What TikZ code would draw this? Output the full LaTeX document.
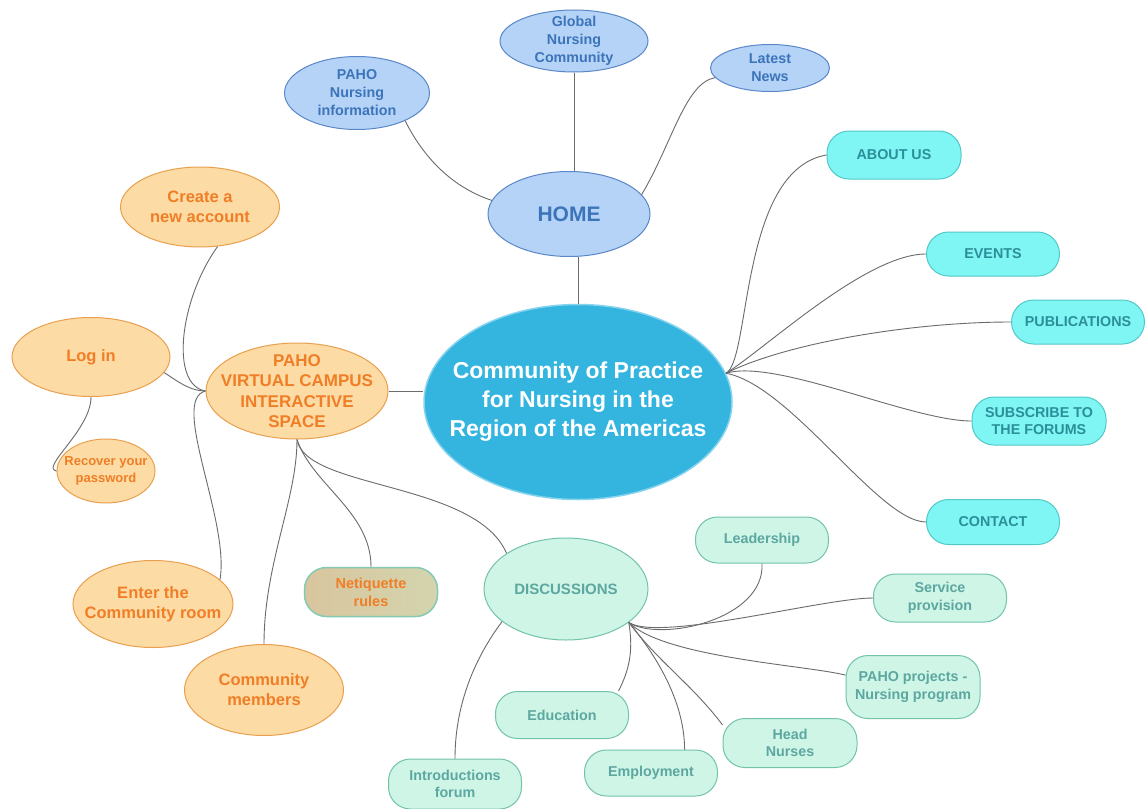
\documentclass[tikz,border=0pt]{standalone}
\usepackage{fontspec}
\setmainfont{Liberation Sans}
\usetikzlibrary{shapes.geometric}
\definecolor{bluefill}{HTML}{B5D3F7}
\definecolor{bluebd}{HTML}{5A87C8}
\definecolor{bluetx}{HTML}{3C74BA}
\definecolor{cfill}{HTML}{33B5E0}
\definecolor{cbd}{HTML}{86D3EE}
\definecolor{ofill}{HTML}{FDDBA5}
\definecolor{obd}{HTML}{E8A04F}
\definecolor{otx}{HTML}{F07E26}
\definecolor{cyfill}{HTML}{80F6F4}
\definecolor{cybd}{HTML}{52C8C8}
\definecolor{cytx}{HTML}{2B8F9A}
\definecolor{gfill}{HTML}{CFF5E7}
\definecolor{gbd}{HTML}{72C3AA}
\definecolor{gtx}{HTML}{5CA79F}
\definecolor{nleft}{HTML}{D9C59E}
\definecolor{nright}{HTML}{D3D5AE}
\definecolor{nbd}{HTML}{85C9B5}
\definecolor{linec}{HTML}{6B6B6B}
\tikzset{
  ell/.style={ellipse, inner sep=-40pt, align=center, line width=1pt},
  blueell/.style={ell, draw=bluebd, fill=bluefill, text=bluetx,
    font=\bfseries\fontsize{14.3}{18}\selectfont},
  orangeell/.style={ell, draw=obd, fill=ofill, text=otx,
    font=\bfseries\fontsize{16.5}{20}\selectfont},
  pill/.style={rectangle, rounded corners=22pt, inner sep=0pt, align=center,
    line width=1pt, minimum width=133pt},
  cypill/.style={pill, draw=cybd, fill=cyfill, text=cytx,
    font=\bfseries\fontsize{14.3}{17.5}\selectfont},
  gpill/.style={pill, draw=gbd, fill=gfill, text=gtx,
    font=\bfseries\fontsize{14.3}{17.5}\selectfont},
  conn/.style={draw=linec, line width=0.9pt},
}
\begin{document}
\begin{tikzpicture}[x=1pt,y=-1pt]
\useasboundingbox (0,0) rectangle (1145,808);
\fill[white] (0,0) rectangle (1145,808);

% top (blue)
\node[blueell, minimum width=148pt, minimum height=62pt] (glob) at (574,41) {Global\\Nursing\\Community};
\node[blueell, minimum width=145pt, minimum height=73pt] (pahon) at (357,93) {PAHO\\Nursing\\information};
\node[blueell, minimum width=119pt, minimum height=47pt] (latest) at (770,68) {Latest\\News};
\node[blueell, minimum width=162pt, minimum height=85pt, font=\bfseries\fontsize{21}{24}\selectfont] (home) at (569,214) {HOME};

% centre
\node[ell, inner sep=-30pt, draw=cbd, line width=1.5pt, fill=cfill, text=white,
  font=\bfseries\fontsize{23}{29}\selectfont,
  minimum width=308pt, minimum height=195pt] (center) at (578,402)
  {Community of Practice\\for Nursing in the\\Region of the Americas};

% left (orange)
\node[orangeell, minimum width=182pt, minimum height=96pt, font=\bfseries\fontsize{17}{20.5}\selectfont] (pvc) at (297,391) {PAHO\\VIRTUAL CAMPUS\\INTERACTIVE\\SPACE};
\node[orangeell, minimum width=159pt, minimum height=80pt] (create) at (200,207) {Create a\\new account};
\node[orangeell, minimum width=158pt, minimum height=79pt] (login) at (91,357) {Log in};
\node[orangeell, minimum width=98pt, minimum height=64pt, font=\bfseries\fontsize{13}{17}\selectfont] (recover) at (106,471) {Recover your\\password};
\node[orangeell, minimum width=160pt, minimum height=87pt] (enter) at (153,604) {Enter the\\Community room};
\node[orangeell, minimum width=159pt, minimum height=91pt] (members) at (264,690) {Community\\members};
\node[pill, draw=nbd, line width=1.5pt, left color=nleft, right color=nright, text=otx,
  font=\bfseries\fontsize{14.5}{18}\selectfont, minimum height=49pt] (neti) at (371,592) {Netiquette\\rules};

% right (cyan)
\node[cypill, minimum width=134pt, minimum height=48pt] (about) at (894,155) {ABOUT US};
\node[cypill, minimum height=44pt] (events) at (993,254) {EVENTS};
\node[cypill, minimum height=44pt] (pubs) at (1078,322) {PUBLICATIONS};
\node[cypill, minimum width=134pt, minimum height=48pt] (subs) at (1039,421) {SUBSCRIBE TO\\THE FORUMS};
\node[cypill, minimum height=45pt] (contact) at (993,522) {CONTACT};

% bottom (green)
\node[ell, draw=gbd, fill=gfill, text=gtx, font=\bfseries\fontsize{15}{18}\selectfont,
  minimum width=164pt, minimum height=102pt] (disc) at (566,589) {DISCUSSIONS};
\node[gpill, minimum height=46pt] (lead) at (762,540) {Leadership};
\node[gpill, minimum height=48pt] (serv) at (940,598) {Service\\provision};
\node[gpill, minimum width=134pt, minimum height=63pt] (proj) at (913,687) {PAHO projects -\\Nursing program};
\node[gpill, minimum width=134pt, minimum height=49pt] (head) at (790,743) {Head\\Nurses};
\node[gpill, minimum height=46pt] (emp) at (651,773) {Employment};
\node[gpill, minimum height=47pt] (edu) at (562,715) {Education};
\node[gpill, minimum height=50pt] (intro) at (455,784) {Introductions\\forum};

% connectors: top
\draw[conn] (center.north) -- (home.south -| center.north);
\draw[conn] (glob.south) -- (glob.south |- home.north);
\draw[conn] (home.170) .. controls +(-45,-15) and +(15,30) .. (pahon.-30);
\draw[conn] (home.15) .. controls +(30,-50) and +(-30,5) .. (latest.190);

% connectors: left
\draw[conn] (pvc.east) -- (center.west |- pvc.east);
\draw[conn] (pvc.west) .. controls +(-36,-6) and +(-38,53) .. (create.-66);
\draw[conn] (login.-12) .. controls +(15,10) and +(-15,0) .. (pvc.west);
\draw[conn] (pvc.west) .. controls +(-36,9) and +(10,-59) .. (enter.20);
\draw[conn] (login.south) .. controls +(0,33) and +(-17,-3) .. (recover.west);
\draw[conn] (pvc.south) .. controls +(0,60) and +(0,-80) .. (members.north);
\draw[conn] (pvc.south) .. controls +(15,45) and +(0,-55) .. (neti.north);
\draw[conn] (pvc.south) .. controls +(8,50) and +(-31,-72) .. (disc.149);

% connectors: right
\draw[conn] (center.11) .. controls +(25,-13) and +(-87,15) .. (about.west);
\draw[conn] (center.11) .. controls +(40,-25) and +(-60,0) .. (events.west);
\draw[conn] (center.11) .. controls +(60,-30) and +(-100,0) .. (pubs.west);
\draw[conn] (center.11) .. controls +(50,-15) and +(-60,0) .. (subs.west);
\draw[conn] (center.11) .. controls +(65,12) and +(-47,0) .. (contact.west);

% connectors: bottom
\draw[conn] (disc.207) .. controls +(-30,40) and +(0,-50) .. (intro.north);
\draw[conn] (disc.-28) .. controls +(30,20) and +(3,57) .. (lead.south);
\draw[conn] (disc.-28) .. controls +(30,20) and +(-50,0) .. (serv.west);
\draw[conn] (disc.-28) .. controls +(35,35) and +(-40,-10) .. (proj.170);
\draw[conn] (disc.-28) .. controls +(30,40) and +(-30,-40) .. (head.165);
\draw[conn] (disc.-28) .. controls +(25,30) and +(0,-50) .. (emp.35);
\draw[conn] (disc.-28) .. controls +(5,30) and +(10,-20) .. (edu.23);
\end{tikzpicture}
\end{document}
